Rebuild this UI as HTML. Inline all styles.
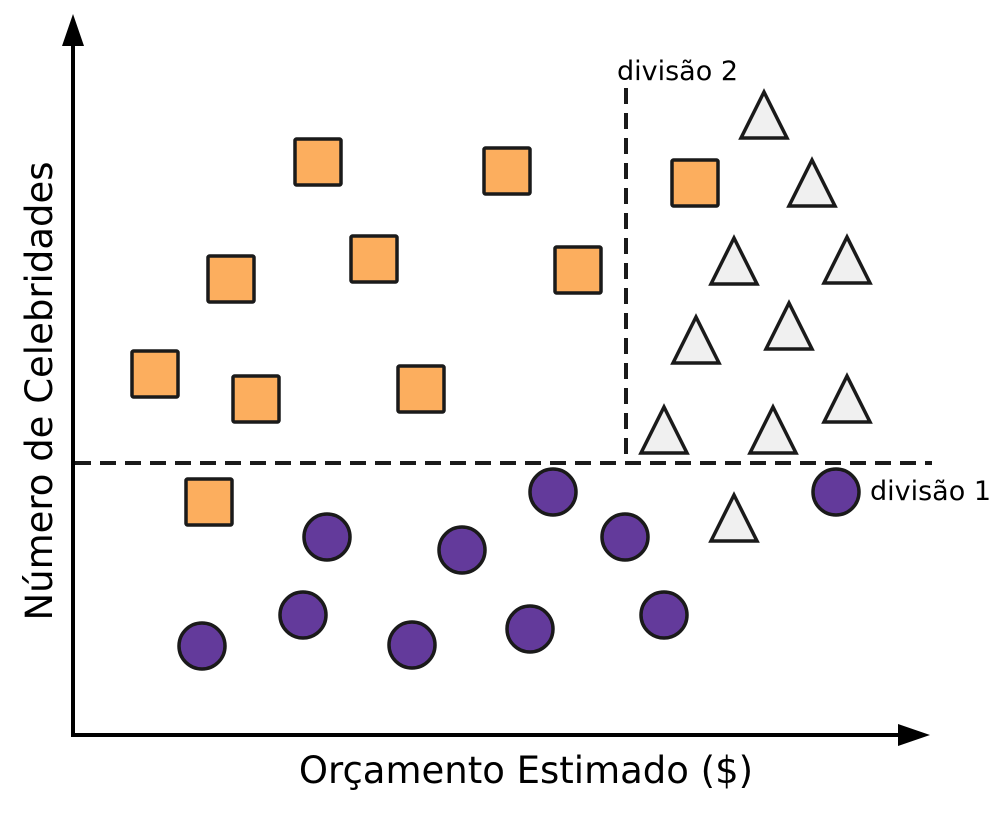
<!DOCTYPE html>
<html><head><meta charset="utf-8"><style>
html,body{margin:0;padding:0;background:#fff;}
svg{display:block;}
text{font-family:"DejaVu Sans","Liberation Sans",sans-serif;fill:#000;}
</style></head><body>
<svg width="992" height="813" viewBox="0 0 992 813" xmlns="http://www.w3.org/2000/svg">
<defs>
<g id="sq"><rect x="-23" y="-23" width="46" height="46" fill="#FCAE5E" stroke="#1a1a1a" stroke-width="3.5" rx="1.5"/></g>
<g id="ci"><circle r="23" fill="#633A9B" stroke="#1a1a1a" stroke-width="3.5"/></g>
<g id="tr"><polygon points="0,-24 23,22 -23,22" fill="#F0F0F0" stroke="#1a1a1a" stroke-width="3.5" stroke-linejoin="miter"/></g>
</defs>
<line x1="73" y1="736" x2="73" y2="40" stroke="#000" stroke-width="4"/>
<polygon points="73,14 62,46 84,46" fill="#000"/>
<line x1="71" y1="735" x2="905" y2="735" stroke="#000" stroke-width="4"/>
<polygon points="930,735 898,724 898,746" fill="#000"/>
<line x1="75" y1="463" x2="932" y2="463" stroke="#1a1a1a" stroke-width="4" stroke-dasharray="16,9"/>
<line x1="626" y1="88" x2="626" y2="463" stroke="#1a1a1a" stroke-width="4" stroke-dasharray="16,9"/>
<use href="#sq" x="318" y="162"/><use href="#sq" x="507" y="171"/><use href="#sq" x="695" y="183"/>
<use href="#sq" x="231" y="279"/><use href="#sq" x="374" y="259"/><use href="#sq" x="578" y="270"/>
<use href="#sq" x="155" y="374"/><use href="#sq" x="256" y="399"/><use href="#sq" x="421" y="389"/>
<use href="#sq" x="209" y="502"/>
<use href="#ci" x="553" y="492"/><use href="#ci" x="836" y="492"/><use href="#ci" x="327" y="537"/>
<use href="#ci" x="462" y="550"/><use href="#ci" x="625" y="537"/><use href="#ci" x="202" y="646"/>
<use href="#ci" x="303" y="615"/><use href="#ci" x="412" y="645"/><use href="#ci" x="530" y="629"/>
<use href="#ci" x="664" y="615"/>
<use href="#tr" x="764" y="116"/><use href="#tr" x="812" y="184"/><use href="#tr" x="734" y="262"/>
<use href="#tr" x="847" y="261"/><use href="#tr" x="696" y="341"/><use href="#tr" x="789" y="327"/>
<use href="#tr" x="664" y="431"/><use href="#tr" x="773" y="431"/><use href="#tr" x="847" y="400"/>
<use href="#tr" x="734" y="519"/>
<text x="617" y="80" font-size="27" textLength="121" lengthAdjust="spacingAndGlyphs">divisão 2</text>
<text x="870" y="500" font-size="27" textLength="121" lengthAdjust="spacingAndGlyphs">divisão 1</text>
<text x="526" y="783" font-size="37" text-anchor="middle">Orçamento Estimado ($)</text>
<text transform="translate(52,391) rotate(-90)" font-size="37" text-anchor="middle">Número de Celebridades</text>
</svg>
</body></html>
